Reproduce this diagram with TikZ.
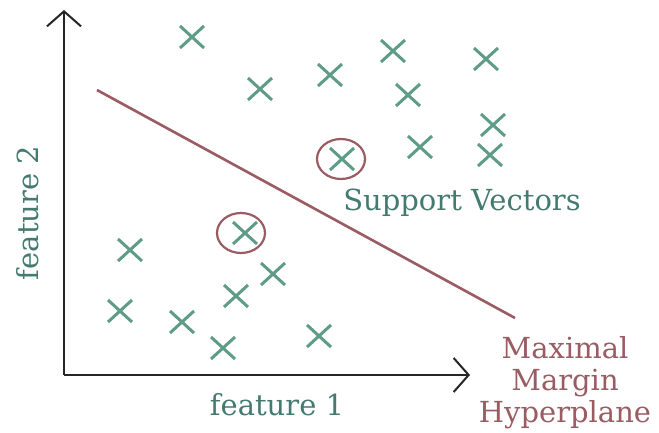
\documentclass[tikz,border=0pt]{standalone}
\usepackage{fontspec}
\setmainfont{DejaVu Serif}
\usetikzlibrary{arrows.meta,calc,shapes.geometric}
\definecolor{cgreen}{HTML}{5E9C87}
\definecolor{ctext}{HTML}{447A70}
\definecolor{cred}{HTML}{9A5C63}
\begin{document}
\begin{tikzpicture}[x=1pt,y=-1pt,
  axis/.style={line width=2.6pt,black!85,-{Straight Barb[length=15pt,width=34pt,line width=2pt]}},
  lbl/.style={font=\fontsize{29}{32}\selectfont,text=ctext},
  rlbl/.style={font=\fontsize{29}{32}\selectfont,text=cred,align=center},
  ring/.style={draw=cred,line width=2.2pt,ellipse,minimum width=48pt,minimum height=40pt,inner sep=0pt}]
\useasboundingbox (0,0) rectangle (659,433);
\coordinate (o) at (64,375);
\coordinate (ytip) at (64,10);
\coordinate (xtip) at (470,375);
\draw[axis] (o) -- (ytip);
\draw[axis] (o) -- (xtip);
\coordinate (h1) at (97,90);
\coordinate (h2) at (515,318);
\draw[cred,line width=2.6pt] (h1) -- (h2);
\foreach \i/\p in {1/{192,37},2/{260,89},3/{330,75},4/{393,51},5/{408,95},6/{486,59},7/{493,125},8/{490,155},9/{420,147},10/{342,159},11/{245,233},12/{130,250},13/{273,274},14/{236,296},15/{120,311},16/{182,322},17/{223,348},18/{319,336}}{
  \coordinate (m\i) at (\p);
  \draw[cgreen,line width=3pt] ($(m\i)+(-12,-11)$) -- ($(m\i)+(12,11)$);
  \draw[cgreen,line width=3pt] ($(m\i)+(-12,11)$) -- ($(m\i)+(12,-11)$);
}
\node[ring] (c1) at (341,159) {};
\node[ring] (c2) at (241,233) {};
\node[lbl] (sv) at (462,203) {Support Vectors};
\node[lbl] (f1) at (277,405) {feature 1};
\node[lbl,rotate=90] (f2) at (28,213) {feature 2};
\node[rlbl] (mm) at (565,383) {Maximal\\Margin\\Hyperplane};
\end{tikzpicture}
\end{document}
